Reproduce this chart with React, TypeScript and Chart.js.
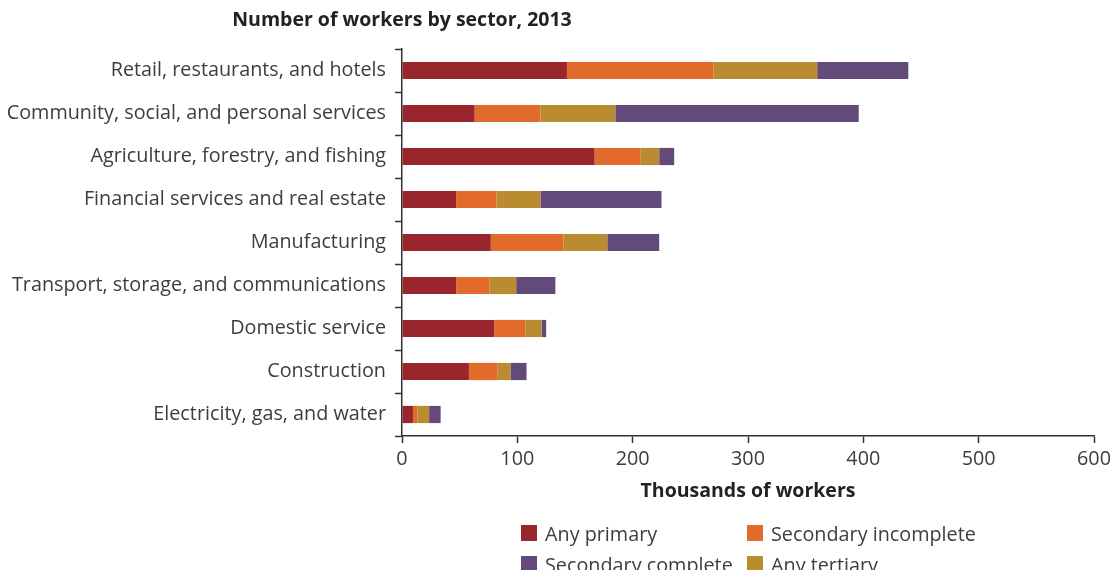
import React, { useEffect, useRef } from "react";
import { Chart, registerables } from "chart.js";

Chart.register(...registerables);

const categories = [
  "Retail, restaurants, and hotels",
  "Community, social, and personal services",
  "Agriculture, forestry, and fishing",
  "Financial services and real estate",
  "Manufacturing",
  "Transport, storage, and communications",
  "Domestic service",
  "Construction",
  "Electricity, gas, and water",
];

const anyPrimary = [143, 63, 167, 47, 77, 47, 80, 58, 9.5];
const secondaryIncomplete = [127, 57, 40, 35, 63, 29, 27, 25, 4];
const anyTertiary = [90, 65, 16, 38, 38, 23, 14, 11, 10];
const secondaryComplete = [79, 211, 13, 105, 45, 34, 4, 14, 10];

const xMin = 0;
const xMax = 600;
const xStep = 100;

const titleText = "Number of workers by sector, 2013";
const xAxisTitle = "Thousands of workers";

const COLORS = {
  primary: "#9a262d",
  secIncomplete: "#e26b2c",
  tertiary: "#b98c2f",
  secComplete: "#634a7a",
};

const legendItems = [
  { label: "Any primary", color: COLORS.primary },
  { label: "Secondary incomplete", color: COLORS.secIncomplete },
  { label: "Secondary complete", color: COLORS.secComplete },
  { label: "Any tertiary", color: COLORS.tertiary },
];

const FONT = "'Open Sans', Roboto, sans-serif";
const TEXT = "#3d3d3d";
const AXIS = "#333333";
const SIZE = 19.8;

const titlePlugin = {
  id: "leftTitle",
  afterDraw(chart: any) {
    const { ctx, chartArea } = chart;
    ctx.save();
    ctx.font = `bold 19.5px ${FONT}`;
    ctx.fillStyle = "#222222";
    ctx.textAlign = "center";
    ctx.textBaseline = "middle";
    ctx.fillText(titleText, chartArea.left, 12);
    ctx.restore();
  },
};

export default function App() {
  const ref = useRef<HTMLCanvasElement | null>(null);

  useEffect(() => {
    if (!ref.current) return;
    Chart.defaults.font.family = FONT;
    const chart = new Chart(ref.current, {
      type: "bar",
      data: {
        labels: categories,
        datasets: [
          { label: "Any primary", data: anyPrimary, backgroundColor: COLORS.primary },
          { label: "Secondary incomplete", data: secondaryIncomplete, backgroundColor: COLORS.secIncomplete },
          { label: "Any tertiary", data: anyTertiary, backgroundColor: COLORS.tertiary },
          { label: "Secondary complete", data: secondaryComplete, backgroundColor: COLORS.secComplete },
        ],
      },
      options: {
        indexAxis: "y",
        responsive: false,
        animation: false,
        maintainAspectRatio: false,
        datasets: { bar: { categoryPercentage: 0.4, barPercentage: 1, borderWidth: 0 } },
        layout: { padding: { top: 41, right: 22, bottom: 65, left: 0 } },
        plugins: {
          legend: { display: false },
          tooltip: { enabled: false },
          title: { display: false },
        },
        scales: {
          x: {
            type: "linear",
            stacked: true,
            min: xMin,
            max: xMax,
            ticks: { stepSize: xStep, color: TEXT, font: { size: SIZE }, padding: 4 },
            grid: { drawOnChartArea: false, drawTicks: true, tickLength: 7, tickColor: AXIS, tickWidth: 1.5 },
            border: { display: true, color: AXIS, width: 1.5 },
            title: {
              display: true,
              text: xAxisTitle,
              color: "#222222",
              font: { size: 19.5, weight: "bold" },
              padding: { top: 0, bottom: 0 },
            },
            afterFit: (scale: any) => {
              scale.height = 67;
            },
          },
          y: {
            type: "category",
            stacked: true,
            ticks: { color: TEXT, font: { size: SIZE }, padding: 9, autoSkip: false },
            grid: { offset: true, drawOnChartArea: false, drawTicks: true, tickLength: 7, tickColor: AXIS, tickWidth: 1.5 },
            border: { display: true, color: AXIS, width: 1.5 },
            afterFit: (scale: any) => {
              scale.width = 394;
            },
          },
        },
      },
      plugins: [titlePlugin],
    });
    return () => chart.destroy();
  }, []);

  return (
    <div style={{ position: "relative", width: 1102, height: 570, marginBottom: -8 }}>
      <canvas ref={ref} width={1108} height={560} style={{ display: "block" }} />
      <div
        style={{
          position: "absolute",
          left: 513,
          top: 517,
          display: "grid",
          gridTemplateColumns: "226px 240px",
          rowGap: 15,
          fontFamily: FONT,
          fontSize: SIZE,
          color: TEXT,
        }}
      >
        {legendItems.map((it) => (
          <div key={it.label} style={{ display: "flex", alignItems: "center", height: 16, whiteSpace: "nowrap" }}>
            <span style={{ width: 16, height: 16, background: it.color, display: "inline-block", marginRight: 8, flex: "none" }} />
            <span>{it.label}</span>
          </div>
        ))}
      </div>
    </div>
  );
}
